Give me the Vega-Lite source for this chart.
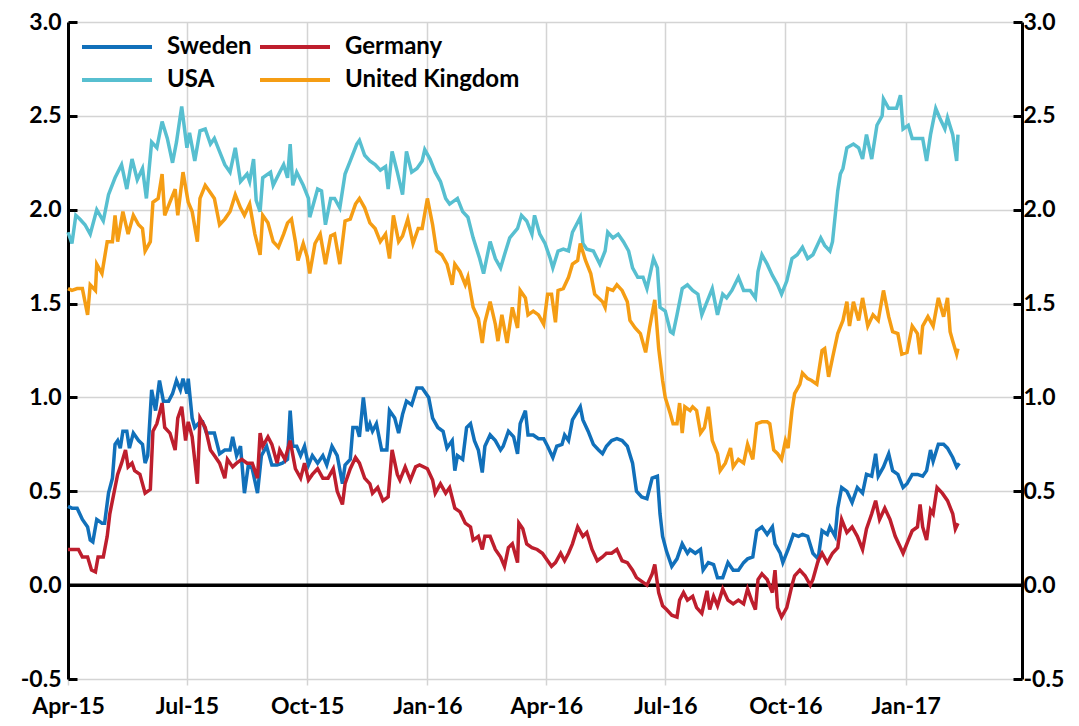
{
"$schema":"https://vega.github.io/schema/vega-lite/v6.json",
"width":954,"height":657,"autosize":"none",
"padding":{"left":68,"top":22,"right":57,"bottom":47},
"background":"white",
"config":{"view":{"stroke":null},"font":"Lato"},
"datasets":{
"us":[
{"date":"2015-04-01","yield":1.88},{"date":"2015-04-04","yield":1.82},{"date":"2015-04-07","yield":1.97},{"date":"2015-04-10","yield":1.95},{"date":"2015-04-14","yield":1.92},{"date":"2015-04-18","yield":1.87},{"date":"2015-04-23","yield":2.0},{"date":"2015-04-28","yield":1.94},{"date":"2015-05-02","yield":2.08},{"date":"2015-05-07","yield":2.17},{"date":"2015-05-12","yield":2.24},{"date":"2015-05-16","yield":2.11},{"date":"2015-05-20","yield":2.27},{"date":"2015-05-24","yield":2.16},{"date":"2015-05-28","yield":2.22},{"date":"2015-05-31","yield":2.06},{"date":"2015-06-04","yield":2.36},{"date":"2015-06-08","yield":2.33},{"date":"2015-06-12","yield":2.47},{"date":"2015-06-16","yield":2.38},{"date":"2015-06-20","yield":2.25},{"date":"2015-06-23","yield":2.36},{"date":"2015-06-27","yield":2.55},{"date":"2015-07-01","yield":2.33},{"date":"2015-07-03","yield":2.41},{"date":"2015-07-07","yield":2.26},{"date":"2015-07-11","yield":2.42},{"date":"2015-07-15","yield":2.43},{"date":"2015-07-19","yield":2.35},{"date":"2015-07-22","yield":2.38},{"date":"2015-07-26","yield":2.31},{"date":"2015-07-30","yield":2.24},{"date":"2015-08-03","yield":2.2},{"date":"2015-08-07","yield":2.33},{"date":"2015-08-11","yield":2.15},{"date":"2015-08-16","yield":2.19},{"date":"2015-08-18","yield":2.15},{"date":"2015-08-21","yield":2.27},{"date":"2015-08-23","yield":2.05},{"date":"2015-08-26","yield":1.99},{"date":"2015-08-28","yield":2.17},{"date":"2015-09-03","yield":2.2},{"date":"2015-09-05","yield":2.13},{"date":"2015-09-10","yield":2.2},{"date":"2015-09-13","yield":2.24},{"date":"2015-09-16","yield":2.17},{"date":"2015-09-18","yield":2.35},{"date":"2015-09-20","yield":2.13},{"date":"2015-09-23","yield":2.2},{"date":"2015-09-28","yield":2.13},{"date":"2015-10-02","yield":2.06},{"date":"2015-10-03","yield":1.96},{"date":"2015-10-09","yield":2.11},{"date":"2015-10-12","yield":2.1},{"date":"2015-10-15","yield":1.92},{"date":"2015-10-19","yield":2.06},{"date":"2015-10-22","yield":2.06},{"date":"2015-10-26","yield":2.01},{"date":"2015-10-30","yield":2.19},{"date":"2015-11-03","yield":2.26},{"date":"2015-11-08","yield":2.35},{"date":"2015-11-10","yield":2.37},{"date":"2015-11-14","yield":2.29},{"date":"2015-11-18","yield":2.26},{"date":"2015-11-22","yield":2.24},{"date":"2015-11-26","yield":2.21},{"date":"2015-11-30","yield":2.23},{"date":"2015-12-02","yield":2.11},{"date":"2015-12-05","yield":2.31},{"date":"2015-12-09","yield":2.2},{"date":"2015-12-13","yield":2.08},{"date":"2015-12-16","yield":2.31},{"date":"2015-12-20","yield":2.2},{"date":"2015-12-24","yield":2.22},{"date":"2015-12-28","yield":2.26},{"date":"2015-12-30","yield":2.32},{"date":"2016-01-03","yield":2.27},{"date":"2016-01-07","yield":2.2},{"date":"2016-01-11","yield":2.15},{"date":"2016-01-15","yield":2.06},{"date":"2016-01-18","yield":2.03},{"date":"2016-01-24","yield":2.06},{"date":"2016-01-28","yield":1.99},{"date":"2016-02-01","yield":1.96},{"date":"2016-02-05","yield":1.85},{"date":"2016-02-10","yield":1.74},{"date":"2016-02-13","yield":1.66},{"date":"2016-02-18","yield":1.83},{"date":"2016-02-22","yield":1.74},{"date":"2016-02-26","yield":1.69},{"date":"2016-02-29","yield":1.76},{"date":"2016-03-04","yield":1.85},{"date":"2016-03-10","yield":1.9},{"date":"2016-03-13","yield":1.97},{"date":"2016-03-17","yield":1.94},{"date":"2016-03-21","yield":1.87},{"date":"2016-03-23","yield":1.97},{"date":"2016-03-27","yield":1.87},{"date":"2016-03-31","yield":1.82},{"date":"2016-04-04","yield":1.74},{"date":"2016-04-06","yield":1.69},{"date":"2016-04-10","yield":1.78},{"date":"2016-04-14","yield":1.79},{"date":"2016-04-18","yield":1.78},{"date":"2016-04-21","yield":1.88},{"date":"2016-04-27","yield":1.96},{"date":"2016-04-29","yield":1.82},{"date":"2016-05-02","yield":1.79},{"date":"2016-05-07","yield":1.78},{"date":"2016-05-12","yield":1.71},{"date":"2016-05-16","yield":1.78},{"date":"2016-05-18","yield":1.88},{"date":"2016-05-22","yield":1.85},{"date":"2016-05-26","yield":1.87},{"date":"2016-05-30","yield":1.83},{"date":"2016-06-03","yield":1.78},{"date":"2016-06-06","yield":1.69},{"date":"2016-06-10","yield":1.64},{"date":"2016-06-14","yield":1.64},{"date":"2016-06-17","yield":1.58},{"date":"2016-06-22","yield":1.74},{"date":"2016-06-25","yield":1.69},{"date":"2016-06-27","yield":1.48},{"date":"2016-07-01","yield":1.46},{"date":"2016-07-05","yield":1.35},{"date":"2016-07-07","yield":1.34},{"date":"2016-07-10","yield":1.44},{"date":"2016-07-14","yield":1.58},{"date":"2016-07-18","yield":1.6},{"date":"2016-07-22","yield":1.57},{"date":"2016-07-26","yield":1.55},{"date":"2016-07-29","yield":1.44},{"date":"2016-08-02","yield":1.51},{"date":"2016-08-06","yield":1.58},{"date":"2016-08-10","yield":1.44},{"date":"2016-08-14","yield":1.55},{"date":"2016-08-17","yield":1.53},{"date":"2016-08-21","yield":1.57},{"date":"2016-08-26","yield":1.64},{"date":"2016-08-30","yield":1.57},{"date":"2016-09-04","yield":1.57},{"date":"2016-09-08","yield":1.53},{"date":"2016-09-10","yield":1.67},{"date":"2016-09-13","yield":1.76},{"date":"2016-09-17","yield":1.71},{"date":"2016-09-21","yield":1.65},{"date":"2016-09-25","yield":1.6},{"date":"2016-09-28","yield":1.55},{"date":"2016-10-02","yield":1.62},{"date":"2016-10-06","yield":1.74},{"date":"2016-10-10","yield":1.76},{"date":"2016-10-14","yield":1.8},{"date":"2016-10-18","yield":1.74},{"date":"2016-10-22","yield":1.76},{"date":"2016-10-28","yield":1.85},{"date":"2016-10-31","yield":1.81},{"date":"2016-11-04","yield":1.78},{"date":"2016-11-06","yield":1.83},{"date":"2016-11-10","yield":2.1},{"date":"2016-11-12","yield":2.19},{"date":"2016-11-14","yield":2.22},{"date":"2016-11-17","yield":2.33},{"date":"2016-11-22","yield":2.35},{"date":"2016-11-26","yield":2.33},{"date":"2016-11-29","yield":2.27},{"date":"2016-12-02","yield":2.4},{"date":"2016-12-06","yield":2.27},{"date":"2016-12-10","yield":2.45},{"date":"2016-12-14","yield":2.5},{"date":"2016-12-15","yield":2.59},{"date":"2016-12-19","yield":2.54},{"date":"2016-12-22","yield":2.54},{"date":"2016-12-25","yield":2.54},{"date":"2016-12-28","yield":2.61},{"date":"2016-12-30","yield":2.43},{"date":"2017-01-03","yield":2.45},{"date":"2017-01-06","yield":2.38},{"date":"2017-01-10","yield":2.38},{"date":"2017-01-14","yield":2.38},{"date":"2017-01-17","yield":2.26},{"date":"2017-01-20","yield":2.4},{"date":"2017-01-24","yield":2.54},{"date":"2017-01-27","yield":2.49},{"date":"2017-01-31","yield":2.43},{"date":"2017-02-02","yield":2.49},{"date":"2017-02-06","yield":2.4},{"date":"2017-02-09","yield":2.26},{"date":"2017-02-10","yield":2.4}],
"uk":[
{"date":"2015-04-01","yield":1.58},{"date":"2015-04-04","yield":1.57},{"date":"2015-04-08","yield":1.58},{"date":"2015-04-12","yield":1.58},{"date":"2015-04-16","yield":1.44},{"date":"2015-04-18","yield":1.6},{"date":"2015-04-22","yield":1.57},{"date":"2015-04-23","yield":1.71},{"date":"2015-04-27","yield":1.66},{"date":"2015-05-01","yield":1.83},{"date":"2015-05-05","yield":1.83},{"date":"2015-05-07","yield":1.97},{"date":"2015-05-09","yield":1.83},{"date":"2015-05-13","yield":1.99},{"date":"2015-05-17","yield":1.87},{"date":"2015-05-21","yield":1.97},{"date":"2015-05-25","yield":1.92},{"date":"2015-05-28","yield":1.9},{"date":"2015-05-30","yield":1.78},{"date":"2015-06-03","yield":1.83},{"date":"2015-06-05","yield":2.04},{"date":"2015-06-09","yield":2.06},{"date":"2015-06-12","yield":2.19},{"date":"2015-06-14","yield":1.97},{"date":"2015-06-18","yield":2.04},{"date":"2015-06-22","yield":2.11},{"date":"2015-06-24","yield":1.97},{"date":"2015-06-28","yield":2.2},{"date":"2015-07-02","yield":2.04},{"date":"2015-07-05","yield":1.99},{"date":"2015-07-09","yield":1.83},{"date":"2015-07-11","yield":2.06},{"date":"2015-07-15","yield":2.13},{"date":"2015-07-19","yield":2.09},{"date":"2015-07-22","yield":2.06},{"date":"2015-07-26","yield":1.92},{"date":"2015-07-30","yield":1.95},{"date":"2015-08-03","yield":1.99},{"date":"2015-08-07","yield":2.08},{"date":"2015-08-11","yield":2.01},{"date":"2015-08-14","yield":1.97},{"date":"2015-08-18","yield":2.03},{"date":"2015-08-22","yield":1.87},{"date":"2015-08-26","yield":1.76},{"date":"2015-08-28","yield":1.97},{"date":"2015-09-01","yield":1.93},{"date":"2015-09-05","yield":1.83},{"date":"2015-09-09","yield":1.8},{"date":"2015-09-13","yield":1.87},{"date":"2015-09-16","yield":1.93},{"date":"2015-09-19","yield":1.95},{"date":"2015-09-22","yield":1.83},{"date":"2015-09-24","yield":1.73},{"date":"2015-09-28","yield":1.82},{"date":"2015-10-01","yield":1.75},{"date":"2015-10-03","yield":1.66},{"date":"2015-10-07","yield":1.82},{"date":"2015-10-11","yield":1.87},{"date":"2015-10-15","yield":1.71},{"date":"2015-10-19","yield":1.86},{"date":"2015-10-22","yield":1.87},{"date":"2015-10-26","yield":1.71},{"date":"2015-10-30","yield":1.94},{"date":"2015-11-03","yield":1.95},{"date":"2015-11-07","yield":2.03},{"date":"2015-11-10","yield":2.06},{"date":"2015-11-14","yield":2.01},{"date":"2015-11-18","yield":1.93},{"date":"2015-11-22","yield":1.9},{"date":"2015-11-26","yield":1.83},{"date":"2015-11-30","yield":1.87},{"date":"2015-12-03","yield":1.74},{"date":"2015-12-06","yield":1.97},{"date":"2015-12-10","yield":1.83},{"date":"2015-12-13","yield":1.86},{"date":"2015-12-17","yield":1.95},{"date":"2015-12-21","yield":1.82},{"date":"2015-12-25","yield":1.9},{"date":"2015-12-28","yield":1.9},{"date":"2016-01-01","yield":2.06},{"date":"2016-01-05","yield":1.92},{"date":"2016-01-08","yield":1.78},{"date":"2016-01-12","yield":1.76},{"date":"2016-01-16","yield":1.71},{"date":"2016-01-20","yield":1.6},{"date":"2016-01-22","yield":1.71},{"date":"2016-01-26","yield":1.67},{"date":"2016-01-30","yield":1.6},{"date":"2016-02-01","yield":1.64},{"date":"2016-02-05","yield":1.48},{"date":"2016-02-09","yield":1.42},{"date":"2016-02-12","yield":1.29},{"date":"2016-02-14","yield":1.4},{"date":"2016-02-18","yield":1.51},{"date":"2016-02-22","yield":1.39},{"date":"2016-02-24","yield":1.3},{"date":"2016-02-27","yield":1.44},{"date":"2016-03-02","yield":1.29},{"date":"2016-03-06","yield":1.48},{"date":"2016-03-10","yield":1.37},{"date":"2016-03-12","yield":1.57},{"date":"2016-03-16","yield":1.53},{"date":"2016-03-18","yield":1.44},{"date":"2016-03-22","yield":1.46},{"date":"2016-03-26","yield":1.44},{"date":"2016-03-30","yield":1.39},{"date":"2016-04-02","yield":1.55},{"date":"2016-04-05","yield":1.55},{"date":"2016-04-08","yield":1.4},{"date":"2016-04-10","yield":1.57},{"date":"2016-04-14","yield":1.58},{"date":"2016-04-18","yield":1.64},{"date":"2016-04-21","yield":1.71},{"date":"2016-04-25","yield":1.73},{"date":"2016-04-27","yield":1.82},{"date":"2016-05-01","yield":1.73},{"date":"2016-05-05","yield":1.66},{"date":"2016-05-08","yield":1.55},{"date":"2016-05-14","yield":1.51},{"date":"2016-05-16","yield":1.48},{"date":"2016-05-18","yield":1.58},{"date":"2016-05-22","yield":1.57},{"date":"2016-05-25","yield":1.6},{"date":"2016-05-29","yield":1.57},{"date":"2016-06-02","yield":1.51},{"date":"2016-06-04","yield":1.41},{"date":"2016-06-08","yield":1.37},{"date":"2016-06-12","yield":1.34},{"date":"2016-06-16","yield":1.24},{"date":"2016-06-19","yield":1.37},{"date":"2016-06-23","yield":1.52},{"date":"2016-06-26","yield":1.26},{"date":"2016-06-29","yield":1.09},{"date":"2016-07-01","yield":1.0},{"date":"2016-07-05","yield":0.91},{"date":"2016-07-07","yield":0.86},{"date":"2016-07-10","yield":0.86},{"date":"2016-07-12","yield":0.97},{"date":"2016-07-14","yield":0.81},{"date":"2016-07-16","yield":0.95},{"date":"2016-07-20","yield":0.93},{"date":"2016-07-22","yield":0.95},{"date":"2016-07-25","yield":0.93},{"date":"2016-07-28","yield":0.81},{"date":"2016-07-31","yield":0.84},{"date":"2016-08-03","yield":0.95},{"date":"2016-08-06","yield":0.77},{"date":"2016-08-10","yield":0.7},{"date":"2016-08-12","yield":0.61},{"date":"2016-08-16","yield":0.65},{"date":"2016-08-20","yield":0.73},{"date":"2016-08-22","yield":0.63},{"date":"2016-08-26","yield":0.67},{"date":"2016-08-30","yield":0.65},{"date":"2016-09-02","yield":0.75},{"date":"2016-09-06","yield":0.67},{"date":"2016-09-09","yield":0.86},{"date":"2016-09-13","yield":0.87},{"date":"2016-09-17","yield":0.87},{"date":"2016-09-19","yield":0.86},{"date":"2016-09-22","yield":0.72},{"date":"2016-09-25","yield":0.7},{"date":"2016-09-28","yield":0.67},{"date":"2016-10-01","yield":0.77},{"date":"2016-10-03","yield":0.73},{"date":"2016-10-06","yield":0.93},{"date":"2016-10-08","yield":1.02},{"date":"2016-10-12","yield":1.07},{"date":"2016-10-14","yield":1.13},{"date":"2016-10-18","yield":1.1},{"date":"2016-10-21","yield":1.09},{"date":"2016-10-25","yield":1.07},{"date":"2016-10-29","yield":1.25},{"date":"2016-10-31","yield":1.26},{"date":"2016-11-03","yield":1.11},{"date":"2016-11-06","yield":1.21},{"date":"2016-11-10","yield":1.34},{"date":"2016-11-14","yield":1.41},{"date":"2016-11-17","yield":1.51},{"date":"2016-11-19","yield":1.38},{"date":"2016-11-22","yield":1.51},{"date":"2016-11-26","yield":1.41},{"date":"2016-11-29","yield":1.53},{"date":"2016-12-03","yield":1.38},{"date":"2016-12-07","yield":1.44},{"date":"2016-12-11","yield":1.41},{"date":"2016-12-15","yield":1.57},{"date":"2016-12-19","yield":1.43},{"date":"2016-12-22","yield":1.35},{"date":"2016-12-26","yield":1.34},{"date":"2016-12-29","yield":1.23},{"date":"2017-01-02","yield":1.24},{"date":"2017-01-06","yield":1.38},{"date":"2017-01-10","yield":1.34},{"date":"2017-01-12","yield":1.23},{"date":"2017-01-14","yield":1.38},{"date":"2017-01-18","yield":1.43},{"date":"2017-01-22","yield":1.38},{"date":"2017-01-26","yield":1.53},{"date":"2017-01-30","yield":1.43},{"date":"2017-02-02","yield":1.53},{"date":"2017-02-04","yield":1.35},{"date":"2017-02-06","yield":1.3},{"date":"2017-02-09","yield":1.23},{"date":"2017-02-10","yield":1.26}],
"se":[
{"date":"2015-04-01","yield":0.42},{"date":"2015-04-04","yield":0.41},{"date":"2015-04-08","yield":0.41},{"date":"2015-04-12","yield":0.35},{"date":"2015-04-16","yield":0.31},{"date":"2015-04-18","yield":0.24},{"date":"2015-04-20","yield":0.23},{"date":"2015-04-23","yield":0.35},{"date":"2015-04-27","yield":0.33},{"date":"2015-04-29","yield":0.33},{"date":"2015-05-02","yield":0.49},{"date":"2015-05-05","yield":0.57},{"date":"2015-05-07","yield":0.75},{"date":"2015-05-09","yield":0.77},{"date":"2015-05-11","yield":0.73},{"date":"2015-05-13","yield":0.82},{"date":"2015-05-16","yield":0.82},{"date":"2015-05-18","yield":0.73},{"date":"2015-05-21","yield":0.81},{"date":"2015-05-25","yield":0.77},{"date":"2015-05-28","yield":0.75},{"date":"2015-05-30","yield":0.65},{"date":"2015-06-01","yield":0.69},{"date":"2015-06-04","yield":1.04},{"date":"2015-06-07","yield":0.93},{"date":"2015-06-10","yield":1.09},{"date":"2015-06-13","yield":0.98},{"date":"2015-06-17","yield":0.98},{"date":"2015-06-20","yield":1.02},{"date":"2015-06-23","yield":1.09},{"date":"2015-06-26","yield":1.04},{"date":"2015-06-28","yield":1.1},{"date":"2015-07-01","yield":1.02},{"date":"2015-07-02","yield":1.1},{"date":"2015-07-05","yield":0.89},{"date":"2015-07-07","yield":0.84},{"date":"2015-07-11","yield":0.87},{"date":"2015-07-13","yield":0.87},{"date":"2015-07-16","yield":0.81},{"date":"2015-07-20","yield":0.81},{"date":"2015-07-22","yield":0.81},{"date":"2015-07-26","yield":0.7},{"date":"2015-07-30","yield":0.72},{"date":"2015-08-03","yield":0.72},{"date":"2015-08-05","yield":0.79},{"date":"2015-08-08","yield":0.69},{"date":"2015-08-11","yield":0.74},{"date":"2015-08-14","yield":0.49},{"date":"2015-08-17","yield":0.64},{"date":"2015-08-20","yield":0.62},{"date":"2015-08-24","yield":0.49},{"date":"2015-08-27","yield":0.69},{"date":"2015-08-31","yield":0.74},{"date":"2015-09-04","yield":0.64},{"date":"2015-09-08","yield":0.64},{"date":"2015-09-12","yield":0.65},{"date":"2015-09-16","yield":0.67},{"date":"2015-09-18","yield":0.93},{"date":"2015-09-20","yield":0.74},{"date":"2015-09-23","yield":0.74},{"date":"2015-09-26","yield":0.69},{"date":"2015-09-29","yield":0.74},{"date":"2015-10-02","yield":0.64},{"date":"2015-10-05","yield":0.69},{"date":"2015-10-09","yield":0.65},{"date":"2015-10-13","yield":0.69},{"date":"2015-10-16","yield":0.64},{"date":"2015-10-20","yield":0.74},{"date":"2015-10-24","yield":0.69},{"date":"2015-10-28","yield":0.54},{"date":"2015-10-30","yield":0.64},{"date":"2015-11-03","yield":0.67},{"date":"2015-11-05","yield":0.84},{"date":"2015-11-08","yield":0.84},{"date":"2015-11-10","yield":0.79},{"date":"2015-11-13","yield":1.0},{"date":"2015-11-16","yield":0.82},{"date":"2015-11-18","yield":0.86},{"date":"2015-11-20","yield":0.82},{"date":"2015-11-23","yield":0.86},{"date":"2015-11-27","yield":0.72},{"date":"2015-12-01","yield":0.72},{"date":"2015-12-03","yield":0.93},{"date":"2015-12-07","yield":0.89},{"date":"2015-12-10","yield":0.81},{"date":"2015-12-13","yield":0.91},{"date":"2015-12-16","yield":0.98},{"date":"2015-12-20","yield":0.96},{"date":"2015-12-24","yield":1.05},{"date":"2015-12-28","yield":1.05},{"date":"2016-01-02","yield":1.0},{"date":"2016-01-05","yield":0.89},{"date":"2016-01-09","yield":0.84},{"date":"2016-01-13","yield":0.82},{"date":"2016-01-16","yield":0.73},{"date":"2016-01-20","yield":0.77},{"date":"2016-01-22","yield":0.61},{"date":"2016-01-24","yield":0.69},{"date":"2016-01-28","yield":0.67},{"date":"2016-01-31","yield":0.84},{"date":"2016-02-03","yield":0.86},{"date":"2016-02-06","yield":0.77},{"date":"2016-02-09","yield":0.72},{"date":"2016-02-12","yield":0.6},{"date":"2016-02-14","yield":0.74},{"date":"2016-02-18","yield":0.8},{"date":"2016-02-22","yield":0.77},{"date":"2016-02-26","yield":0.72},{"date":"2016-02-28","yield":0.74},{"date":"2016-03-03","yield":0.82},{"date":"2016-03-07","yield":0.79},{"date":"2016-03-10","yield":0.7},{"date":"2016-03-12","yield":0.86},{"date":"2016-03-16","yield":0.93},{"date":"2016-03-18","yield":0.8},{"date":"2016-03-22","yield":0.8},{"date":"2016-03-26","yield":0.78},{"date":"2016-03-30","yield":0.78},{"date":"2016-04-02","yield":0.74},{"date":"2016-04-06","yield":0.68},{"date":"2016-04-09","yield":0.74},{"date":"2016-04-13","yield":0.75},{"date":"2016-04-15","yield":0.8},{"date":"2016-04-18","yield":0.77},{"date":"2016-04-21","yield":0.88},{"date":"2016-04-27","yield":0.95},{"date":"2016-04-29","yield":0.88},{"date":"2016-05-03","yield":0.82},{"date":"2016-05-07","yield":0.75},{"date":"2016-05-11","yield":0.72},{"date":"2016-05-14","yield":0.7},{"date":"2016-05-17","yield":0.74},{"date":"2016-05-21","yield":0.77},{"date":"2016-05-25","yield":0.78},{"date":"2016-05-29","yield":0.77},{"date":"2016-06-02","yield":0.74},{"date":"2016-06-06","yield":0.65},{"date":"2016-06-09","yield":0.5},{"date":"2016-06-13","yield":0.47},{"date":"2016-06-17","yield":0.46},{"date":"2016-06-21","yield":0.57},{"date":"2016-06-25","yield":0.58},{"date":"2016-06-27","yield":0.38},{"date":"2016-06-29","yield":0.26},{"date":"2016-07-02","yield":0.18},{"date":"2016-07-06","yield":0.1},{"date":"2016-07-10","yield":0.14},{"date":"2016-07-14","yield":0.22},{"date":"2016-07-18","yield":0.17},{"date":"2016-07-20","yield":0.19},{"date":"2016-07-24","yield":0.17},{"date":"2016-07-28","yield":0.19},{"date":"2016-07-30","yield":0.08},{"date":"2016-08-03","yield":0.12},{"date":"2016-08-07","yield":0.11},{"date":"2016-08-10","yield":0.04},{"date":"2016-08-14","yield":0.04},{"date":"2016-08-18","yield":0.12},{"date":"2016-08-22","yield":0.08},{"date":"2016-08-26","yield":0.08},{"date":"2016-08-30","yield":0.12},{"date":"2016-09-02","yield":0.14},{"date":"2016-09-06","yield":0.15},{"date":"2016-09-09","yield":0.29},{"date":"2016-09-13","yield":0.31},{"date":"2016-09-17","yield":0.27},{"date":"2016-09-21","yield":0.31},{"date":"2016-09-23","yield":0.22},{"date":"2016-09-27","yield":0.17},{"date":"2016-09-29","yield":0.12},{"date":"2016-10-03","yield":0.19},{"date":"2016-10-07","yield":0.27},{"date":"2016-10-11","yield":0.26},{"date":"2016-10-14","yield":0.27},{"date":"2016-10-18","yield":0.26},{"date":"2016-10-22","yield":0.17},{"date":"2016-10-26","yield":0.14},{"date":"2016-10-29","yield":0.29},{"date":"2016-11-02","yield":0.27},{"date":"2016-11-04","yield":0.31},{"date":"2016-11-08","yield":0.26},{"date":"2016-11-10","yield":0.41},{"date":"2016-11-13","yield":0.52},{"date":"2016-11-17","yield":0.5},{"date":"2016-11-21","yield":0.44},{"date":"2016-11-25","yield":0.52},{"date":"2016-11-29","yield":0.49},{"date":"2016-12-02","yield":0.59},{"date":"2016-12-06","yield":0.58},{"date":"2016-12-09","yield":0.7},{"date":"2016-12-11","yield":0.58},{"date":"2016-12-15","yield":0.63},{"date":"2016-12-19","yield":0.7},{"date":"2016-12-22","yield":0.61},{"date":"2016-12-26","yield":0.59},{"date":"2016-12-30","yield":0.52},{"date":"2017-01-02","yield":0.54},{"date":"2017-01-06","yield":0.59},{"date":"2017-01-10","yield":0.59},{"date":"2017-01-14","yield":0.58},{"date":"2017-01-17","yield":0.61},{"date":"2017-01-20","yield":0.72},{"date":"2017-01-22","yield":0.66},{"date":"2017-01-26","yield":0.75},{"date":"2017-01-30","yield":0.75},{"date":"2017-02-02","yield":0.73},{"date":"2017-02-06","yield":0.68},{"date":"2017-02-09","yield":0.63},{"date":"2017-02-11","yield":0.65}],
"de":[
{"date":"2015-04-01","yield":0.19},{"date":"2015-04-04","yield":0.19},{"date":"2015-04-09","yield":0.19},{"date":"2015-04-12","yield":0.15},{"date":"2015-04-16","yield":0.15},{"date":"2015-04-19","yield":0.08},{"date":"2015-04-22","yield":0.07},{"date":"2015-04-24","yield":0.15},{"date":"2015-04-28","yield":0.15},{"date":"2015-05-01","yield":0.26},{"date":"2015-05-03","yield":0.38},{"date":"2015-05-07","yield":0.52},{"date":"2015-05-09","yield":0.59},{"date":"2015-05-12","yield":0.65},{"date":"2015-05-15","yield":0.72},{"date":"2015-05-17","yield":0.63},{"date":"2015-05-20","yield":0.65},{"date":"2015-05-22","yield":0.61},{"date":"2015-05-26","yield":0.59},{"date":"2015-05-30","yield":0.49},{"date":"2015-06-03","yield":0.51},{"date":"2015-06-05","yield":0.82},{"date":"2015-06-08","yield":0.86},{"date":"2015-06-12","yield":0.97},{"date":"2015-06-14","yield":0.84},{"date":"2015-06-18","yield":0.81},{"date":"2015-06-22","yield":0.72},{"date":"2015-06-24","yield":0.89},{"date":"2015-06-27","yield":0.95},{"date":"2015-06-30","yield":0.77},{"date":"2015-07-02","yield":0.87},{"date":"2015-07-05","yield":0.79},{"date":"2015-07-09","yield":0.54},{"date":"2015-07-11","yield":0.89},{"date":"2015-07-15","yield":0.84},{"date":"2015-07-19","yield":0.72},{"date":"2015-07-22","yield":0.69},{"date":"2015-07-26","yield":0.65},{"date":"2015-07-30","yield":0.57},{"date":"2015-08-01","yield":0.67},{"date":"2015-08-05","yield":0.63},{"date":"2015-08-08","yield":0.65},{"date":"2015-08-12","yield":0.67},{"date":"2015-08-16","yield":0.65},{"date":"2015-08-20","yield":0.65},{"date":"2015-08-24","yield":0.57},{"date":"2015-08-26","yield":0.81},{"date":"2015-08-28","yield":0.74},{"date":"2015-09-01","yield":0.79},{"date":"2015-09-04","yield":0.75},{"date":"2015-09-08","yield":0.65},{"date":"2015-09-10","yield":0.72},{"date":"2015-09-14","yield":0.67},{"date":"2015-09-18","yield":0.77},{"date":"2015-09-22","yield":0.62},{"date":"2015-09-26","yield":0.57},{"date":"2015-09-29","yield":0.65},{"date":"2015-10-02","yield":0.56},{"date":"2015-10-05","yield":0.59},{"date":"2015-10-09","yield":0.62},{"date":"2015-10-13","yield":0.57},{"date":"2015-10-17","yield":0.57},{"date":"2015-10-21","yield":0.62},{"date":"2015-10-24","yield":0.5},{"date":"2015-10-28","yield":0.43},{"date":"2015-10-30","yield":0.54},{"date":"2015-11-03","yield":0.62},{"date":"2015-11-07","yield":0.68},{"date":"2015-11-10","yield":0.65},{"date":"2015-11-14","yield":0.57},{"date":"2015-11-18","yield":0.54},{"date":"2015-11-20","yield":0.49},{"date":"2015-11-24","yield":0.52},{"date":"2015-11-28","yield":0.45},{"date":"2015-12-02","yield":0.47},{"date":"2015-12-05","yield":0.72},{"date":"2015-12-09","yield":0.59},{"date":"2015-12-11","yield":0.56},{"date":"2015-12-15","yield":0.63},{"date":"2015-12-19","yield":0.56},{"date":"2015-12-23","yield":0.63},{"date":"2015-12-26","yield":0.64},{"date":"2016-01-01","yield":0.62},{"date":"2016-01-05","yield":0.56},{"date":"2016-01-07","yield":0.49},{"date":"2016-01-11","yield":0.54},{"date":"2016-01-15","yield":0.49},{"date":"2016-01-18","yield":0.52},{"date":"2016-01-22","yield":0.41},{"date":"2016-01-26","yield":0.39},{"date":"2016-01-30","yield":0.33},{"date":"2016-02-03","yield":0.31},{"date":"2016-02-05","yield":0.24},{"date":"2016-02-09","yield":0.26},{"date":"2016-02-12","yield":0.19},{"date":"2016-02-14","yield":0.26},{"date":"2016-02-18","yield":0.26},{"date":"2016-02-22","yield":0.19},{"date":"2016-02-26","yield":0.15},{"date":"2016-02-29","yield":0.1},{"date":"2016-03-03","yield":0.2},{"date":"2016-03-06","yield":0.22},{"date":"2016-03-10","yield":0.12},{"date":"2016-03-11","yield":0.33},{"date":"2016-03-14","yield":0.3},{"date":"2016-03-17","yield":0.22},{"date":"2016-03-21","yield":0.2},{"date":"2016-03-25","yield":0.19},{"date":"2016-03-29","yield":0.17},{"date":"2016-04-02","yield":0.13},{"date":"2016-04-05","yield":0.1},{"date":"2016-04-08","yield":0.12},{"date":"2016-04-12","yield":0.17},{"date":"2016-04-15","yield":0.13},{"date":"2016-04-18","yield":0.17},{"date":"2016-04-21","yield":0.22},{"date":"2016-04-25","yield":0.31},{"date":"2016-04-29","yield":0.26},{"date":"2016-05-02","yield":0.28},{"date":"2016-05-06","yield":0.19},{"date":"2016-05-10","yield":0.13},{"date":"2016-05-14","yield":0.15},{"date":"2016-05-17","yield":0.17},{"date":"2016-05-21","yield":0.17},{"date":"2016-05-25","yield":0.19},{"date":"2016-05-29","yield":0.13},{"date":"2016-06-02","yield":0.12},{"date":"2016-06-06","yield":0.08},{"date":"2016-06-09","yield":0.04},{"date":"2016-06-13","yield":0.02},{"date":"2016-06-17","yield":0.0},{"date":"2016-06-21","yield":0.06},{"date":"2016-06-23","yield":0.11},{"date":"2016-06-26","yield":-0.04},{"date":"2016-06-29","yield":-0.11},{"date":"2016-07-02","yield":-0.13},{"date":"2016-07-06","yield":-0.16},{"date":"2016-07-10","yield":-0.17},{"date":"2016-07-12","yield":-0.08},{"date":"2016-07-15","yield":-0.04},{"date":"2016-07-18","yield":-0.08},{"date":"2016-07-22","yield":-0.06},{"date":"2016-07-25","yield":-0.12},{"date":"2016-07-29","yield":-0.15},{"date":"2016-08-02","yield":-0.03},{"date":"2016-08-04","yield":-0.13},{"date":"2016-08-07","yield":-0.06},{"date":"2016-08-10","yield":-0.11},{"date":"2016-08-14","yield":-0.02},{"date":"2016-08-18","yield":-0.08},{"date":"2016-08-22","yield":-0.1},{"date":"2016-08-26","yield":-0.08},{"date":"2016-08-30","yield":-0.1},{"date":"2016-09-02","yield":-0.02},{"date":"2016-09-05","yield":-0.08},{"date":"2016-09-08","yield":-0.13},{"date":"2016-09-10","yield":0.03},{"date":"2016-09-13","yield":0.06},{"date":"2016-09-17","yield":0.03},{"date":"2016-09-21","yield":-0.04},{"date":"2016-09-23","yield":0.08},{"date":"2016-09-25","yield":-0.12},{"date":"2016-09-28","yield":-0.17},{"date":"2016-10-02","yield":-0.12},{"date":"2016-10-06","yield":0.0},{"date":"2016-10-08","yield":0.05},{"date":"2016-10-12","yield":0.08},{"date":"2016-10-16","yield":0.05},{"date":"2016-10-20","yield":0.0},{"date":"2016-10-22","yield":0.03},{"date":"2016-10-26","yield":0.13},{"date":"2016-10-29","yield":0.17},{"date":"2016-11-02","yield":0.12},{"date":"2016-11-06","yield":0.17},{"date":"2016-11-10","yield":0.2},{"date":"2016-11-13","yield":0.35},{"date":"2016-11-17","yield":0.28},{"date":"2016-11-21","yield":0.31},{"date":"2016-11-25","yield":0.26},{"date":"2016-11-29","yield":0.19},{"date":"2016-12-02","yield":0.3},{"date":"2016-12-06","yield":0.38},{"date":"2016-12-09","yield":0.45},{"date":"2016-12-12","yield":0.35},{"date":"2016-12-16","yield":0.41},{"date":"2016-12-20","yield":0.35},{"date":"2016-12-24","yield":0.26},{"date":"2016-12-28","yield":0.2},{"date":"2016-12-30","yield":0.17},{"date":"2017-01-03","yield":0.24},{"date":"2017-01-06","yield":0.29},{"date":"2017-01-10","yield":0.31},{"date":"2017-01-12","yield":0.43},{"date":"2017-01-14","yield":0.31},{"date":"2017-01-17","yield":0.24},{"date":"2017-01-20","yield":0.4},{"date":"2017-01-22","yield":0.38},{"date":"2017-01-25","yield":0.52},{"date":"2017-01-29","yield":0.49},{"date":"2017-02-02","yield":0.45},{"date":"2017-02-06","yield":0.38},{"date":"2017-02-08","yield":0.3},{"date":"2017-02-10","yield":0.33}]
},
"layer":[
{"data":{"values":[{}]},"mark":{"type":"rule","color":"black","strokeWidth":3.5},
 "encoding":{"y":{"datum":0,"type":"quantitative","scale":{"domain":[-0.5,3],"nice":false},"axis":null}}},
{"data":{"name":"se"},"mark":{"type":"line","strokeWidth":3.5,"interpolate":"linear"},
 "encoding":{
  "x":{"field":"date","type":"temporal",
   "scale":{"type":"utc","domain":[{"year":2015,"month":4,"date":1,"utc":true},{"year":2017,"month":3,"date":31,"utc":true}],"nice":false},
   "axis":{"title":null,"values":[{"year":2015,"month":4,"date":1,"utc":true},{"year":2015,"month":7,"date":1,"utc":true},{"year":2015,"month":10,"date":1,"utc":true},{"year":2016,"month":1,"date":1,"utc":true},{"year":2016,"month":4,"date":1,"utc":true},{"year":2016,"month":7,"date":1,"utc":true},{"year":2016,"month":10,"date":1,"utc":true},{"year":2017,"month":1,"date":1,"utc":true}],
    "labelExpr":"utcFormat(datum.value, '%b-%y')","domain":false,"ticks":true,"tickColor":"#d4d4d4","tickWidth":1.5,"tickSize":6,"grid":true,"gridColor":"#d4d4d4","gridWidth":1.5,"labelPadding":10,"labelFont":"Lato","labelFontWeight":"bold","labelFontSize":23,"labelColor":"black","labelFlush":false,"labelOverlap":false}},
  "y":{"field":"yield","type":"quantitative","scale":{"domain":[-0.5,3],"nice":false},
   "axis":{"orient":"left","title":null,"values":[-0.5,0,0.5,1,1.5,2,2.5,3],"labelExpr":"datum.value < 0 ? '-' + format(-datum.value, '.1f') : format(datum.value, '.1f')","domain":true,"domainColor":"black","domainWidth":3,"ticks":true,"tickColor":"black","tickWidth":3,"tickSize":-9,"labelPadding":16,"grid":true,"gridColor":"#d4d4d4","gridWidth":1.5,"labelFont":"Lato","labelFontWeight":"bold","labelFontSize":23,"labelColor":"black","labelFlush":false,"labelOverlap":false}},
  "color":{"datum":"Sweden","type":"nominal","scale":{"domain":["Sweden","Germany","USA","United Kingdom"],"range":["#1170BA","#BE1E2D","#57BFD0","#F59D14"]},
   "legend":{"title":null,"orient":"none","legendX":12,"legendY":12,"direction":"horizontal","columns":2,"symbolType":"stroke","symbolSize":4900,"symbolStrokeWidth":4,"clipHeight":26,"labelFont":"Lato","labelFontWeight":"bold","labelFontSize":24,"labelColor":"black","labelLimit":400,"labelOffset":13,"columnPadding":6,"rowPadding":7,"padding":0}}}},
{"data":{"name":"de"},"mark":{"type":"line","strokeWidth":3.5},
 "encoding":{
  "x":{"field":"date","type":"temporal"},
  "y":{"field":"yield","type":"quantitative",
   "axis":{"orient":"right","title":null,"values":[-0.5,0,0.5,1,1.5,2,2.5,3],"labelExpr":"datum.value < 0 ? '-' + format(-datum.value, '.1f') : format(datum.value, '.1f')","domain":true,"domainColor":"black","domainWidth":3,"ticks":true,"tickColor":"black","tickWidth":3,"tickSize":-9,"labelPadding":10,"grid":false,"labelFont":"Lato","labelFontWeight":"bold","labelFontSize":23,"labelColor":"black","labelFlush":false,"labelOverlap":false}},
  "color":{"datum":"Germany","type":"nominal"}}},
{"data":{"name":"us"},"mark":{"type":"line","strokeWidth":3.5},
 "encoding":{
  "x":{"field":"date","type":"temporal"},
  "y":{"field":"yield","type":"quantitative","axis":null},
  "color":{"datum":"USA","type":"nominal"}}},
{"data":{"name":"uk"},"mark":{"type":"line","strokeWidth":3.5},
 "encoding":{
  "x":{"field":"date","type":"temporal"},
  "y":{"field":"yield","type":"quantitative","axis":null},
  "color":{"datum":"United Kingdom","type":"nominal"}}}
],
"resolve":{"axis":{"y":"independent"}}
}
